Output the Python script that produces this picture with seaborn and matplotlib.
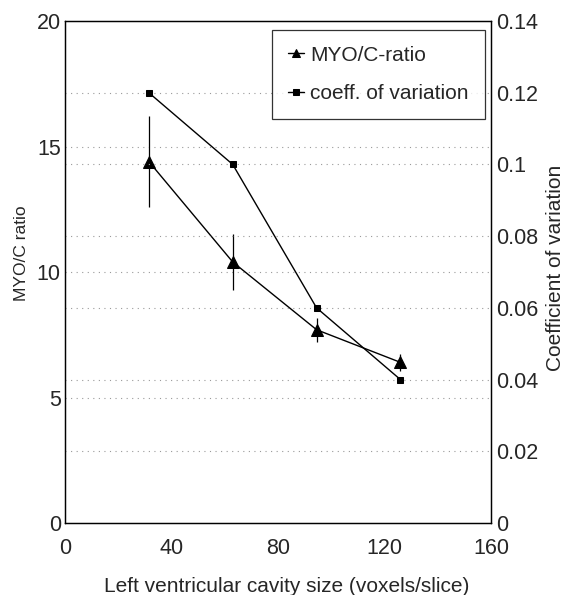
import pandas as pd
import seaborn as sns
import matplotlib.pyplot as plt

# Data
CAVITY_SIZE = [31.5, 63, 94.5, 126]
MYO_C_RATIO = [14.4, 10.4, 7.7, 6.4]
MYO_C_ERR = [1.8, 1.1, 0.47, 0.33]
COEFF_VARIATION = [0.12, 0.10, 0.06, 0.04]

LEFT_TICKS = [0, 5, 10, 15, 20]
RIGHT_TICKS = [0, 0.02, 0.04, 0.06, 0.08, 0.1, 0.12, 0.14]
RIGHT_LABELS = ["0", "0.02", "0.04", "0.06", "0.08", "0.1", "0.12", "0.14"]
X_TICKS = [0, 40, 80, 120, 160]

sns.set_style("white")
plt.rcParams["font.family"] = ["Liberation Sans", "DejaVu Sans"]

df = pd.DataFrame({
    "size": CAVITY_SIZE,
    "ratio": MYO_C_RATIO,
    "err": MYO_C_ERR,
    "cv": COEFF_VARIATION,
})

fig = plt.figure(figsize=(5.67, 5.95), dpi=100)
ax = fig.add_axes([0.1146, 0.121, 0.7513, 0.8437])
ax2 = ax.twinx()

# Dotted grid lines for both axes
for t in LEFT_TICKS[1:-1]:
    ax.axhline(t, color="#9a9a9a", lw=0.8, ls=(0, (1, 4)), zorder=0)
for t in RIGHT_TICKS[1:-1]:
    ax2.axhline(t, color="#9a9a9a", lw=0.8, ls=(0, (1, 4)), zorder=0)

# MYO/C ratio with error bars on left axis
ax.errorbar(df["size"], df["ratio"], yerr=df["err"], fmt="none",
            ecolor="black", elinewidth=0.9, capsize=0, zorder=3)
sns.lineplot(data=df, x="size", y="ratio", ax=ax, color="black", lw=1.0,
             marker="^", markersize=8, markeredgecolor="black",
             label="MYO/C-ratio", legend=False, zorder=4)

# Coefficient of variation on right axis
sns.lineplot(data=df, x="size", y="cv", ax=ax2, color="black", lw=1.0,
             marker="s", markersize=5, markeredgecolor="black",
             label="coeff. of variation", legend=False, zorder=4)

ax.set_xlim(0, 160)
ax.set_ylim(0, 20)
ax2.set_ylim(0, 0.14)
ax.set_xticks(X_TICKS)
ax.set_yticks(LEFT_TICKS)
ax2.set_yticks(RIGHT_TICKS)
ax2.set_yticklabels(RIGHT_LABELS)

ax.tick_params(axis="y", length=0, labelsize=15.5, pad=3)
ax.tick_params(axis="x", length=0, labelsize=15.5, pad=11)
ax2.tick_params(axis="y", length=0, labelsize=15.5, pad=3.5)

ax.set_xlabel("Left ventricular cavity size (voxels/slice)", fontsize=15)
ax.xaxis.set_label_coords(0.521, -0.126)
ax.xaxis.label.set_va("center")

ax.set_ylabel("MYO/C ratio", fontsize=12.5)
ax.yaxis.set_label_coords(-0.103, 0.538)
ax.yaxis.label.set_va("center")

ax2.set_ylabel("Coefficient of variation", fontsize=15)
ax2.yaxis.set_label_coords(1.152, 0.508)
ax2.yaxis.label.set_va("center")

for a in (ax, ax2):
    for s in a.spines.values():
        s.set_color("black")
        s.set_linewidth(0.9)

h1, l1 = ax.get_legend_handles_labels()
h2, l2 = ax2.get_legend_handles_labels()
leg = ax2.legend(h1 + h2, l1 + l2, loc="upper right", bbox_to_anchor=(0.985, 0.982),
                 fontsize=15, frameon=True, fancybox=False, edgecolor="black",
                 handlelength=0.8, handletextpad=0.3, labelspacing=0.95,
                 borderpad=0.75, borderaxespad=0, markerscale=0.75)
leg.get_frame().set_linewidth(0.9)

fig.savefig("out.png", dpi=100)
